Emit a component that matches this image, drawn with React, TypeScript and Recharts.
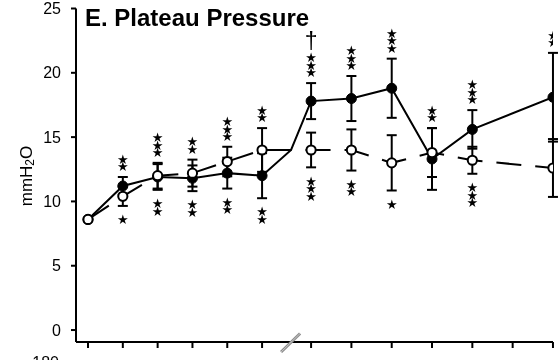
import React from 'react';
import {
  ComposedChart,
  Line,
  XAxis,
  YAxis,
  ErrorBar,
  Scatter,
  ReferenceDot,
  Customized,
} from 'recharts';

// ---- data ----
// 13 measurement slots along the x axis; slot 11 has a tick but no measurement
const slots = [0, 1, 2, 3, 4, 5, 6, 7, 8, 9, 10, 11, 12];
const filledMean = [8.6, 11.2, 11.9, 11.8, 12.2, 12.0, 17.8, 18.0, 18.8, 13.3, 15.6, null, 18.1];
const filledSd = [0, 0.7, 1.0, 1.0, 1.2, 1.75, 1.4, 1.75, 2.3, 2.4, 1.5, null, 3.45];
const openMean = [8.6, 10.4, 12.0, 12.2, 13.1, 14.0, 14.0, 14.0, 13.0, 13.8, 13.2, null, 12.6];
const openSd = [0, 0.75, 1.0, 1.05, 1.15, 1.7, 1.35, 1.6, 2.15, 1.9, 1.05, null, 2.25];
const starsAbove = [0, 2, 3, 2, 3, 2, 3, 3, 3, 2, 3, 0, 2];
const starsBelow = [0, 1, 2, 2, 2, 2, 3, 2, 1, 0, 3, 0, 0];
const daggerAbove = [false, false, false, false, false, false, true, false, false, false, false, false, false];
const breakFilled = 14.0; // both curves pass the axis break at this level
const breakOpen = 14.0;
const yTicks = [0, 5, 10, 15, 20, 25];
const title = 'E. Plateau Pressure';
const cutLabel = '-180';

// ---- axis layout (broken time axis: two segments with different spacing) ----
const LEFT_SLOTS = 6;
const RIGHT_START = 6.408;
const RIGHT_STEP = 1.158;
const BREAK_POS = 5.833;
const X_MIN = -0.345;
const X_MAX = 13.357;
const Y_MIN = -0.93;
const Y_MAX = 25;

const slotPos = (i: number) => (i < LEFT_SLOTS ? i : RIGHT_START + (i - LEFT_SLOTS) * RIGHT_STEP);
const xTicks = slots.map(slotPos);

const lineData: any[] = [];
slots.forEach((i) => {
  if (filledMean[i] != null) {
    lineData.push({
      x: slotPos(i),
      filled: filledMean[i],
      filledSd: filledSd[i],
      open: openMean[i],
      openSd: openSd[i],
    });
  }
  if (i === LEFT_SLOTS - 1) {
    lineData.push({ x: BREAK_POS, filled: breakFilled, open: breakOpen, isBreak: true });
  }
});

const aboveData = slots
  .filter((i) => starsAbove[i] > 0)
  .map((i) => ({
    x: slotPos(i),
    y: Math.max((filledMean[i] as number) + (filledSd[i] as number), (openMean[i] as number) + (openSd[i] as number)),
    n: starsAbove[i],
    dagger: daggerAbove[i],
  }));

const belowData = slots
  .filter((i) => starsBelow[i] > 0)
  .map((i) => ({
    x: slotPos(i),
    y: Math.min((filledMean[i] as number) - (filledSd[i] as number), (openMean[i] as number) - (openSd[i] as number)),
    n: starsBelow[i],
  }));

const FONT = '"Liberation Sans", Arial, Helvetica, sans-serif';
const STAR_FONT = '"DejaVu Sans", sans-serif';
const STAR_STEP = 7.5;
const STAR_SIZE = 13;

const StarStack = ({ cx, firstCenter, n, dir }: { cx: number; firstCenter: number; n: number; dir: number }) => {
  const spans = [];
  for (let k = 0; k < n; k++) {
    spans.push(
      <tspan key={k} x={cx} dy={k === 0 ? 0 : dir * STAR_STEP}>
        ★
      </tspan>
    );
  }
  return (
    <text x={cx} y={firstCenter + STAR_SIZE * 0.33} textAnchor="middle" fontSize={STAR_SIZE} fontFamily={STAR_FONT} fill="#000">
      {spans}
    </text>
  );
};

const StarsAbove = (p: any) => {
  const { cx, cy, payload } = p;
  if (cx == null || cy == null) return <g />;
  const first = cy - 10;
  const top = first - (payload.n - 1) * STAR_STEP;
  return (
    <g>
      <StarStack cx={cx} firstCenter={first} n={payload.n} dir={-1} />
      {payload.dagger ? (
        <text x={cx} y={top - 9} textAnchor="middle" fontSize={23} fontFamily={FONT} fill="#000">
          †
        </text>
      ) : null}
    </g>
  );
};

const StarsBelow = (p: any) => {
  const { cx, cy, payload } = p;
  if (cx == null || cy == null) return <g />;
  return <StarStack cx={cx} firstCenter={cy + 14} n={payload.n} dir={1} />;
};

const FilledDot = (p: any) => {
  const { cx, cy, payload, index } = p;
  if (payload?.isBreak || cx == null || cy == null) return <g key={`fd${index}`} />;
  return <circle key={`fd${index}`} cx={cx} cy={cy} r={5} fill="#000" stroke="#000" strokeWidth={1} />;
};

const OpenDot = (p: any) => {
  const { cx, cy, payload, index } = p;
  if (payload?.isBreak || cx == null || cy == null) return <g key={`od${index}`} />;
  return <circle key={`od${index}`} cx={cx} cy={cy} r={4.6} fill="#fff" stroke="#000" strokeWidth={2} />;
};

const BreakMark = (p: any) => {
  const { cx, cy } = p;
  if (cx == null || cy == null) return <g />;
  return (
    <g>
      <line x1={cx - 10} y1={cy + 10} x2={cx + 9} y2={cy - 8.5} stroke="#8c8c8c" strokeWidth={3} />
      <line x1={cx - 10} y1={cy + 10} x2={cx + 9} y2={cy - 8.5} stroke="#c8c8c8" strokeWidth={1} />
    </g>
  );
};

const Texts = () => (
  <g>
    <text x={85} y={26} fontSize={24} fontWeight="bold" fontFamily={FONT} fill="#000">
      {title}
    </text>
    <text
      x={26}
      y={176}
      transform="rotate(-90, 26, 176)"
      textAnchor="middle"
      dominantBaseline="central"
      fontSize={17}
      fontFamily={FONT}
      fill="#000"
    >
      mmH
      <tspan dy={4} fontSize={12}>2</tspan>
      <tspan dy={-4}>O</tspan>
    </text>
    <text x={43} y={368} textAnchor="middle" fontSize={16} fontFamily={FONT} fill="#000">
      {cutLabel}
    </text>
  </g>
);

const EmptyTick = () => <g />;

export default function App() {
  return (
    <div style={{ position: 'absolute', left: 0, top: 0, width: 559, height: 360, willChange: 'transform' }}>
      <ComposedChart width={559} height={360} data={lineData} margin={{ top: 8.5, right: 6, bottom: 0, left: 0 }}>
        <XAxis
          dataKey="x"
          type="number"
          domain={[X_MIN, X_MAX]}
          allowDataOverflow
          ticks={xTicks}
          interval={0}
          height={18}
          tickSize={6}
          tick={EmptyTick}
          axisLine={{ stroke: '#000', strokeWidth: 2 }}
          tickLine={{ stroke: '#000', strokeWidth: 2 }}
        />
        <YAxis
          type="number"
          domain={[Y_MIN, Y_MAX]}
          allowDataOverflow
          ticks={yTicks}
          interval={0}
          width={76}
          tickSize={5}
          tickMargin={10}
          tick={{ fontSize: 16, fontFamily: FONT, fill: '#000' }}
          axisLine={{ stroke: '#000', strokeWidth: 2 }}
          tickLine={{ stroke: '#000', strokeWidth: 2 }}
        />
        <Line
          dataKey="filled"
          type="linear"
          stroke="#000"
          strokeWidth={2}
          dot={FilledDot}
          activeDot={false}
          isAnimationActive={false}
        >
          <ErrorBar dataKey="filledSd" direction="y" width={5} stroke="#000" strokeWidth={2} />
        </Line>
        <Line
          dataKey="open"
          type="linear"
          stroke="#000"
          strokeWidth={2}
          strokeDasharray="25 14"
          dot={OpenDot}
          activeDot={false}
          isAnimationActive={false}
        >
          <ErrorBar dataKey="openSd" direction="y" width={5} stroke="#000" strokeWidth={2} />
        </Line>
        <Scatter data={aboveData} dataKey="y" shape={StarsAbove} isAnimationActive={false} />
        <Scatter data={belowData} dataKey="y" shape={StarsBelow} isAnimationActive={false} />
        <ReferenceDot x={BREAK_POS} y={Y_MIN} ifOverflow="visible" shape={BreakMark} />
        <Customized component={Texts} />
      </ComposedChart>
    </div>
  );
}
